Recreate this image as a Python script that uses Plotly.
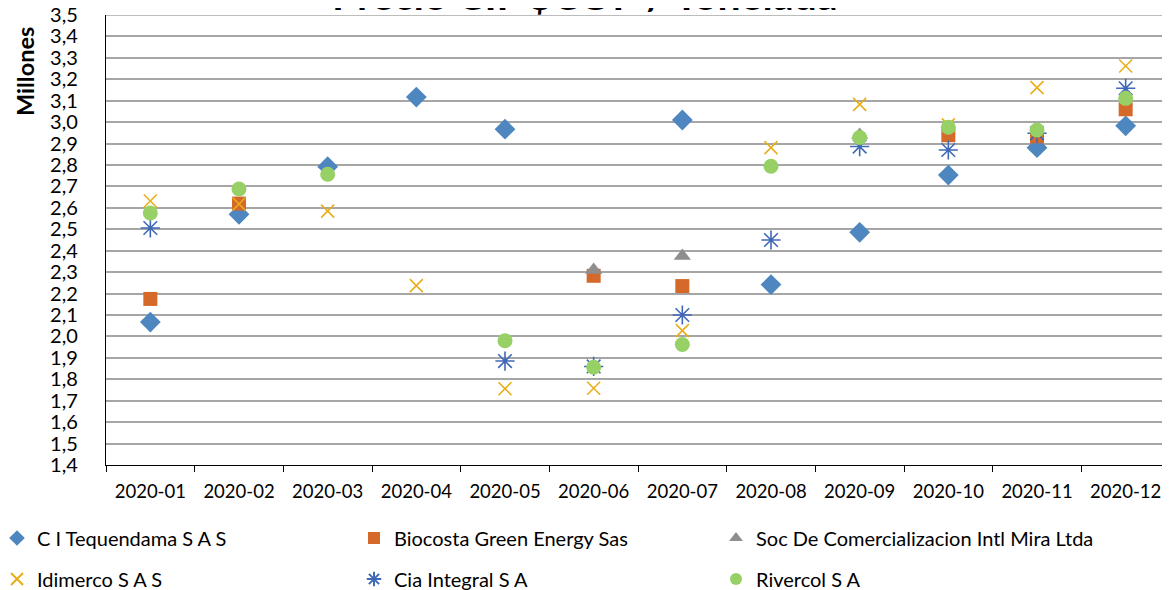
import plotly.graph_objects as go

months = ["2020-01", "2020-02", "2020-03", "2020-04", "2020-05", "2020-06",
          "2020-07", "2020-08", "2020-09", "2020-10", "2020-11", "2020-12"]

tequendama = [2.067, 2.57, 2.792, 3.117, 2.967, None, 3.01, 2.242, 2.486, 2.753, 2.881, 2.983]
biocosta = [2.175, 2.62, None, None, None, 2.283, 2.235, None, None, 2.939, 2.934, 3.06]
soc_mira = [None, None, None, None, None, 2.31, 2.375, None, 2.94, None, None, None]
idimerco = [2.632, 2.618, 2.585, 2.237, 1.756, 1.758, 2.027, 2.881, 3.083, 2.987, 3.161, 3.262]
cia_integral = [2.506, None, None, None, 1.885, 1.86, 2.10, 2.45, 2.886, 2.87, 2.948, 3.158]
rivercol = [2.576, 2.688, 2.757, None, 1.98, 1.856, 1.962, 2.794, 2.928, 2.976, 2.963, 3.111]

y_ticks = [1.4, 1.5, 1.6, 1.7, 1.8, 1.9, 2.0, 2.1, 2.2, 2.3, 2.4, 2.5,
           2.6, 2.7, 2.8, 2.9, 3.0, 3.1, 3.2, 3.3, 3.4, 3.5]
y_tick_labels = ["1,4", "1,5", "1,6", "1,7", "1,8", "1,9", "2,0", "2,1", "2,2", "2,3", "2,4",
                 "2,5", "2,6", "2,7", "2,8", "2,9", "3,0", "3,1", "3,2", "3,3", "3,4", "3,5"]

series_names = ["C I Tequendama S A S", "Biocosta Green Energy Sas",
                "Soc De Comercializacion Intl Mira Ltda", "Idimerco S A S",
                "Cia Integral S A", "Rivercol S A"]

FONT = "Lato, 'Open Sans', sans-serif"

# the page body has an 8px default margin: work in page pixels, convert to figure
OFF = 8
W, H = 1170 - OFF, 590 - OFF
L, T = 106 - OFF, 15 - OFF
BOTTOM = 465 - OFF
R = 0
B = H - BOTTOM
PW = W - L - R
PH = H - T - B

def px_x(x_page):
    return (x_page - OFF - L) / PW

def px_y(y_page):
    return (BOTTOM - (y_page - OFF)) / PH

styles = [
    dict(symbol="diamond", size=16, color="#4E86BF", line=dict(width=0)),
    dict(symbol="square", size=14, color="#D4692A", line=dict(width=0)),
    dict(symbol="triangle-up", size=15, color="#8E8E8E", line=dict(width=0)),
    dict(symbol="x-thin-open", size=13, color="#E8AE1A", line=dict(width=1.6, color="#E8AE1A")),
    dict(symbol="asterisk-open", size=16, color="#3F68B8", line=dict(width=1.6, color="#3F68B8")),
    dict(symbol="circle", size=15, color="#97D166", line=dict(width=0)),
]

legend_ids = ["legend", "legend2", "legend3", "legend4", "legend5", "legend6"]
# page pixel left edge of each legend box, and row centre
legend_pos = [(-3, 538), (354, 538), (716, 538), (-3, 579), (354, 579), (716, 579)]

fig = go.Figure()
for name, vals, st, lid in zip(series_names,
                               [tequendama, biocosta, soc_mira, idimerco, cia_integral, rivercol],
                               styles, legend_ids):
    mk = dict(symbol=st["symbol"], size=st["size"], color=st["color"], line=st["line"])
    fig.add_trace(go.Scatter(x=months, y=vals, mode="markers", name=name,
                             marker=mk, legend=lid, cliponaxis=False))

layout_legends = {}
for lid, (lx, ly) in zip(legend_ids, legend_pos):
    layout_legends[lid] = dict(orientation="h", x=px_x(lx), xanchor="left",
                               y=px_y(ly), yanchor="middle",
                               itemsizing="constant", itemwidth=30,
                               font=dict(size=20, family=FONT, color="black"),
                               bgcolor="rgba(0,0,0,0)")

fig.update_layout(
    width=W, height=H,
    margin=dict(l=L, r=R, t=T, b=B, autoexpand=False),
    paper_bgcolor="white", plot_bgcolor="white",
    font=dict(family=FONT, color="black"),
    showlegend=True,
    **layout_legends,
)

fig.update_xaxes(type="category", range=[-0.5, 11.5],
                 showline=True, linecolor="black", linewidth=1.3,
                 ticks="outside", tickson="boundaries", ticklen=6, tickcolor="black",
                 showgrid=False, tickfont=dict(size=18.5, family=FONT), zeroline=False,
                 ticklabelstandoff=10, automargin=False)
fig.update_yaxes(range=[1.4, 3.5], tickmode="array", tickvals=y_ticks, ticktext=y_tick_labels,
                 showline=True, linecolor="black", linewidth=1.3,
                 showgrid=True, gridcolor="#A6A6A6", gridwidth=1.6,
                 ticks="", tickfont=dict(size=20, family=FONT), zeroline=False,
                 ticklabelstandoff=23, ticklabeloverflow="allow",
                 automargin=False, mirror=False)

# top border gridline at 3.5 as in the reference
fig.add_hline(y=y_ticks[-1], line=dict(color="#A6A6A6", width=1.6))

fig.add_annotation(text="<b>Millones</b>", xref="paper", yref="paper",
                   x=px_x(25), y=px_y(72), xanchor="center", yanchor="middle",
                   textangle=-90, showarrow=False,
                   font=dict(size=23.5, family=FONT, color="black"))

fig.add_annotation(text="<b>Precio CIF $COP / Tonelada</b>", xref="paper", yref="paper",
                   x=px_x(585), y=px_y(21), xanchor="center", yanchor="bottom",
                   showarrow=False, font=dict(size=41, family=FONT, color="black"))

fig.write_html("out.html")
